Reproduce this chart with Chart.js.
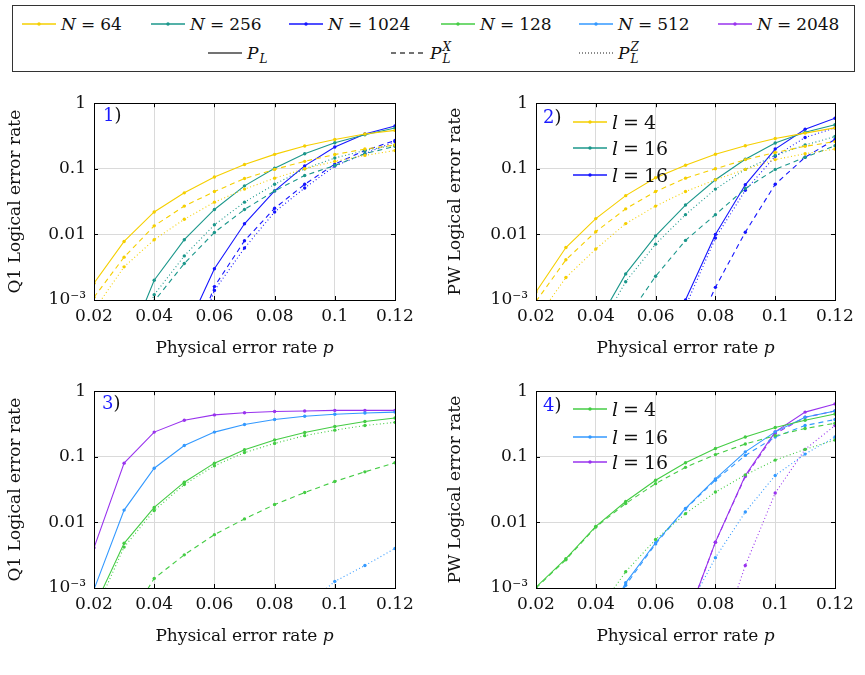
<!DOCTYPE html>
<html>
<head>
<meta charset="utf-8">
<script src="https://cdn.jsdelivr.net/npm/chart.js@4.4.1/dist/chart.umd.min.js"></script>
<style>
  body { margin: 0; background: #fff; font-family: "DejaVu Serif", serif; color: #111; }
  #wrap { position: relative; width: 865px; height: 675px; overflow: hidden; }
  #wrap canvas { position: absolute; }
  .box { position: absolute; left: 12px; top: 5px; width: 843px; height: 67px; border: 1px solid #333; box-sizing: border-box; }
  .ent { position: absolute; display: flex; align-items: center; white-space: nowrap; height: 24px; }
  .ent svg { margin-right: 5px; }
  .eq { margin: 0 5px; }
  .plab { position: absolute; font-size: 18px; line-height: 20px; }
  .plab b { font-weight: normal; color: #1a1aff; }
  .xt { position: absolute; font-size: 17px; line-height: 20px; transform: translateX(-50%); white-space: nowrap; }
  .sup { display: inline-flex; flex-direction: column; font-size: 12px; line-height: 12px; margin-left: 1px; }
</style>
</head>
<body>
<div id="wrap">
  <div class="box"></div>
  <canvas id="c1" width="430" height="280" style="left:0;top:85px"></canvas>
  <canvas id="c2" width="430" height="280" style="left:440px;top:85px"></canvas>
  <canvas id="c3" width="430" height="280" style="left:0;top:373px"></canvas>
  <canvas id="c4" width="430" height="280" style="left:440px;top:373px"></canvas>
</div>
<script>
// x values (physical error rate p)
const P = [0.02, 0.03, 0.04, 0.05, 0.06, 0.07, 0.08, 0.09, 0.10, 0.11, 0.12];
const X_TICKS = [0.02, 0.04, 0.06, 0.08, 0.1, 0.12];
const X_TICK_LABELS = ['0.02', '0.04', '0.06', '0.08', '0.1', '0.12'];
const Y_TICKS = [0.001, 0.01, 0.1, 1];
const Y_TICK_LABELS = ['10\u207B\u00B3', '0.01', '0.1', '1'];

const N_LABELS = ['64', '256', '1024', '128', '512', '2048'];
const L_LABELS = ['4', '16', '16'];

const YELLOW = '#f5cf00', TEAL = '#1b978b', BLUE = '#1515ff';
const GREEN = '#44cc44', LBLUE = '#3399ff', PURPLE = '#9933ee';
const N_COLORS = [YELLOW, TEAL, BLUE, GREEN, LBLUE, PURPLE];

// Panel 1: Q1, N = 64 / 256 / 1024  (L = P_L, X = P_L^X, Z = P_L^Z)
const q1_n64_L   = [1.8e-3, 7.8e-3, 0.022, 0.043, 0.075, 0.116, 0.166, 0.223, 0.28, 0.34, 0.385];
const q1_n64_X   = [1.1e-3, 4.5e-3, 0.0135, 0.027, 0.045, 0.071, 0.098, 0.13, 0.165, 0.2, 0.23];
const q1_n64_Z   = [7e-4, 3.2e-3, 8.3e-3, 0.017, 0.031, 0.049, 0.072, 0.1, 0.13, 0.16, 0.19];
const q1_n256_L  = [null, 1.5e-4, 2.0e-3, 8.3e-3, 0.024, 0.055, 0.102, 0.17, 0.25, 0.33, 0.42];
const q1_n256_X  = [null, 6e-5, 9.6e-4, 3.6e-3, 0.0107, 0.024, 0.046, 0.079, 0.112, 0.17, 0.22];
const q1_n256_Z  = [null, 1e-4, 1.2e-3, 4.7e-3, 0.014, 0.031, 0.058, 0.1, 0.146, 0.19, 0.23];
const q1_n1024_L = [null, null, null, 3e-4, 3.0e-3, 0.0145, 0.046, 0.111, 0.215, 0.34, 0.45];
const q1_n1024_X = [null, null, null, 1e-4, 1.6e-3, 8e-3, 0.025, 0.058, 0.118, 0.19, 0.27];
const q1_n1024_Z = [null, null, null, 8e-5, 1.4e-3, 6.2e-3, 0.022, 0.051, 0.11, 0.17, 0.26];

// Panel 2: PW, l = 4 / 16 / 16
const pw_a_L = [1.33e-3, 6.3e-3, 0.0174, 0.039, 0.073, 0.113, 0.167, 0.225, 0.29, 0.35, 0.42];
const pw_a_X = [9.5e-4, 4.1e-3, 0.011, 0.0245, 0.045, 0.072, 0.10, 0.138, 0.177, 0.22, 0.26];
const pw_a_Z = [5e-4, 2.2e-3, 6.0e-3, 0.0146, 0.027, 0.045, 0.068, 0.098, 0.138, 0.17, 0.2];
const pw_b_L = [null, null, 4e-4, 2.5e-3, 9.5e-3, 0.028, 0.068, 0.14, 0.247, 0.36, 0.47];
const pw_b_X = [null, null, null, 5e-4, 2.3e-3, 8.1e-3, 0.020, 0.05, 0.098, 0.15, 0.225];
const pw_b_Z = [null, null, 3e-4, 1.9e-3, 7.1e-3, 0.020, 0.049, 0.098, 0.16, 0.23, 0.31];
const pw_c_L = [null, null, null, null, 1e-5, 1.0e-3, 0.010, 0.057, 0.2, 0.40, 0.59];
const pw_c_X = [null, null, null, null, null, 1.5e-4, 1.56e-3, 0.0108, 0.058, 0.15, 0.28];
const pw_c_Z = [null, null, null, null, 1e-5, 8e-4, 8.8e-3, 0.047, 0.155, 0.30, 0.42];

// Panel 3: Q1, N = 128 / 512 / 2048
const q1_n128_L  = [5e-4, 4.8e-3, 0.0169, 0.041, 0.08, 0.128, 0.18, 0.235, 0.29, 0.346, 0.39];
const q1_n128_X  = [null, 2.5e-4, 1.4e-3, 3.2e-3, 6.5e-3, 0.0113, 0.0187, 0.0285, 0.042, 0.059, 0.081];
const q1_n128_Z  = [4e-4, 4.2e-3, 0.0152, 0.0378, 0.073, 0.116, 0.16, 0.21, 0.255, 0.30, 0.335];
const q1_n512_L  = [9.5e-4, 0.0154, 0.067, 0.149, 0.238, 0.31, 0.37, 0.416, 0.445, 0.466, 0.48];
const q1_n512_Z  = [null, null, null, null, null, null, 1e-4, 5.2e-4, 1.26e-3, 2.2e-3, 4.0e-3];
const q1_n2048_L = [4.1e-3, 0.08, 0.238, 0.36, 0.435, 0.47, 0.49, 0.5, 0.51, 0.51, 0.51];

// Panel 4: PW, l = 4 / 16 / 16
const pw_d_L = [1.03e-3, 2.8e-3, 8.7e-3, 0.0208, 0.044, 0.081, 0.134, 0.20, 0.28, 0.36, 0.45];
const pw_d_X = [1.0e-3, 2.7e-3, 8.5e-3, 0.0194, 0.039, 0.069, 0.108, 0.157, 0.21, 0.27, 0.325];
const pw_d_Z = [null, null, 4e-4, 1.77e-3, 5.5e-3, 0.0136, 0.029, 0.053, 0.089, 0.13, 0.18];
const pw_e_L = [null, null, 1.5e-4, 1.2e-3, 4.9e-3, 0.0163, 0.046, 0.119, 0.24, 0.4, 0.5];
const pw_e_X = [null, null, 1.4e-4, 1.1e-3, 4.7e-3, 0.016, 0.044, 0.105, 0.2, 0.3, 0.37];
const pw_e_Z = [null, null, null, null, null, 4e-4, 2.9e-3, 0.0144, 0.052, 0.11, 0.2];
const pw_f_L = [null, null, null, null, null, 3e-4, 5.0e-3, 0.052, 0.24, 0.48, 0.64];
const pw_f_X = [null, null, null, null, null, 3e-4, 5.0e-3, 0.05, 0.226, 0.4, 0.5];
const pw_f_Z = [null, null, null, null, null, null, 1e-4, 2.2e-3, 0.028, 0.13, 0.30];

const FONT = '"DejaVu Serif", serif';

function ds(values, color, kind) {
  return {
    data: values.map((v, i) => ({ x: P[i], y: v })),
    borderColor: color,
    backgroundColor: color,
    borderWidth: 1.1,
    pointRadius: 1.7,
    pointBorderWidth: 0,
    pointHoverRadius: 0,
    borderDash: kind === 'X' ? [5, 4] : kind === 'Z' ? [1, 2.5] : [],
    tension: 0,
    spanGaps: false
  };
}

// black frame + inward tick marks like the original plots
const frame = {
  id: 'frame',
  afterDatasetsDraw(chart) {
    const { ctx, chartArea: a, scales: { x, y } } = chart;
    ctx.save();
    ctx.strokeStyle = '#000';
    ctx.lineWidth = 1;
    ctx.beginPath();
    x.ticks.forEach(t => {
      const px = Math.round(x.getPixelForValue(t.value)) + 0.5;
      ctx.moveTo(px, a.bottom); ctx.lineTo(px, a.bottom - 4);
      ctx.moveTo(px, a.top); ctx.lineTo(px, a.top + 4);
    });
    y.ticks.forEach(t => {
      const py = Math.round(y.getPixelForValue(t.value)) + 0.5;
      ctx.moveTo(a.left, py); ctx.lineTo(a.left + 4, py);
      ctx.moveTo(a.right, py); ctx.lineTo(a.right - 4, py);
    });
    ctx.stroke();
    ctx.strokeRect(Math.round(a.left) + 0.5, Math.round(a.top) + 0.5,
      Math.round(a.right - a.left), Math.round(a.bottom - a.top));
    ctx.restore();
  }
};

function panel(id, yTitle, yAxisWidth, datasets) {
  return new Chart(document.getElementById(id), {
    type: 'line',
    data: { datasets },
    plugins: [frame],
    options: {
      responsive: false,
      animation: false,
      events: [],
      layout: { padding: { top: 14, right: 35, left: 0, bottom: 0 } },
      plugins: { legend: { display: false }, tooltip: { enabled: false } },
      scales: {
        x: {
          type: 'linear', min: 0.02, max: 0.12,
          afterBuildTicks: s => { s.ticks = X_TICKS.map(v => ({ value: v })); },
          afterFit: s => { s.height = 65; },
          grid: { color: '#dadada', drawTicks: false },
          border: { display: false },
          ticks: { padding: 6, color: '#111', font: { family: FONT, size: 17 },
                   maxRotation: 0, callback: (v, i) => X_TICK_LABELS[i] }
        },
        y: {
          type: 'logarithmic', min: 0.001, max: 1,
          afterBuildTicks: s => { s.ticks = Y_TICKS.map(v => ({ value: v })); },
          afterFit: s => { s.width = yAxisWidth; },
          grid: { color: '#dadada', drawTicks: false },
          border: { display: false },
          ticks: { padding: 8, color: '#111', font: { family: FONT, size: 17 },
                   callback: (v, i) => Y_TICK_LABELS[i] },
          title: { display: true, color: '#111', font: { family: FONT, size: 17 },
                   padding: { top: 5, bottom: 0 }, text: yTitle }
        }
      }
    }
  });
}

const charts = [
  panel('c1', 'Q1 Logical error rate', 94, [
    ds(q1_n64_L, YELLOW, 'L'), ds(q1_n64_X, YELLOW, 'X'), ds(q1_n64_Z, YELLOW, 'Z'),
    ds(q1_n256_L, TEAL, 'L'), ds(q1_n256_X, TEAL, 'X'), ds(q1_n256_Z, TEAL, 'Z'),
    ds(q1_n1024_L, BLUE, 'L'), ds(q1_n1024_X, BLUE, 'X'), ds(q1_n1024_Z, BLUE, 'Z')
  ]),
  panel('c2', 'PW Logical error rate', 96, [
    ds(pw_a_L, YELLOW, 'L'), ds(pw_a_X, YELLOW, 'X'), ds(pw_a_Z, YELLOW, 'Z'),
    ds(pw_b_L, TEAL, 'L'), ds(pw_b_X, TEAL, 'X'), ds(pw_b_Z, TEAL, 'Z'),
    ds(pw_c_L, BLUE, 'L'), ds(pw_c_X, BLUE, 'X'), ds(pw_c_Z, BLUE, 'Z')
  ]),
  panel('c3', 'Q1 Logical error rate', 94, [
    ds(q1_n128_L, GREEN, 'L'), ds(q1_n128_X, GREEN, 'X'), ds(q1_n128_Z, GREEN, 'Z'),
    ds(q1_n512_L, LBLUE, 'L'), ds(q1_n512_Z, LBLUE, 'Z'),
    ds(q1_n2048_L, PURPLE, 'L')
  ]),
  panel('c4', 'PW Logical error rate', 96, [
    ds(pw_d_L, GREEN, 'L'), ds(pw_d_X, GREEN, 'X'), ds(pw_d_Z, GREEN, 'Z'),
    ds(pw_e_L, LBLUE, 'L'), ds(pw_e_X, LBLUE, 'X'), ds(pw_e_Z, LBLUE, 'Z'),
    ds(pw_f_L, PURPLE, 'L'), ds(pw_f_X, PURPLE, 'X'), ds(pw_f_Z, PURPLE, 'Z')
  ])
];

// ---- HTML legends and labels ----
const wrap = document.getElementById('wrap');

function sample(color, dash, dot) {
  return `<svg width="34" height="10"><line x1="0" y1="5" x2="34" y2="5" stroke="${color}" stroke-width="1.3"` +
    (dash ? ` stroke-dasharray="${dash}"` : '') + `/>` +
    (dot ? `<circle cx="17" cy="5" r="1.7" fill="${color}"/>` : '') + `</svg>`;
}
function add(html, cls, left, top, size) {
  const d = document.createElement('div');
  d.className = cls;
  d.style.left = left + 'px';
  d.style.top = top + 'px';
  if (size) d.style.fontSize = size + 'px';
  d.innerHTML = html;
  wrap.appendChild(d);
  return d;
}

// x axis titles (italic p), centred under each plot area
charts.forEach(ch => {
  const c = ch.canvas, a = ch.chartArea;
  add('Physical error rate <i>p</i>', 'xt',
      c.offsetLeft + (a.left + a.right) / 2, c.offsetTop + a.bottom + 37);
});

// top legend, row 1
const rowX = [22, 151, 289, 441, 579, 718];
N_LABELS.forEach((n, i) => {
  add(sample(N_COLORS[i], null, true) + `<i>N</i><span class="eq">=</span>${n}`, 'ent', rowX[i], 12, 17);
});
// top legend, row 2
add(sample('#444', null, false) + `<i>P</i><span class="sup"><span>&nbsp;</span><i>L</i></span>`, 'ent', 208, 41, 17);
add(sample('#444', '5,4', false) + `<i>P</i><span class="sup"><i>X</i><i>L</i></span>`, 'ent', 391, 41, 17);
add(sample('#666', '1,2', false) + `<i>P</i><span class="sup"><i>Z</i><i>L</i></span>`, 'ent', 579, 41, 17);

// panel labels
add('<b>1</b>)', 'plab', 103, 105);
add('<b>2</b>)', 'plab', 543, 107);
add('<b>3</b>)', 'plab', 102, 393);
add('<b>4</b>)', 'plab', 543, 395);

// in-plot legends for panels 2 and 4
const leg2 = [YELLOW, TEAL, BLUE], leg4 = [GREEN, LBLUE, PURPLE];
const rowY2 = [122, 148, 175], rowY4 = [409, 437, 462];
L_LABELS.forEach((l, i) => {
  add(sample(leg2[i], null, true) + `<i>l</i><span class="eq">=</span>${l}`, 'ent', 573, rowY2[i] - 12, 19);
  add(sample(leg4[i], null, true) + `<i>l</i><span class="eq">=</span>${l}`, 'ent', 573, rowY4[i] - 12, 19);
});
</script>
</body>
</html>
